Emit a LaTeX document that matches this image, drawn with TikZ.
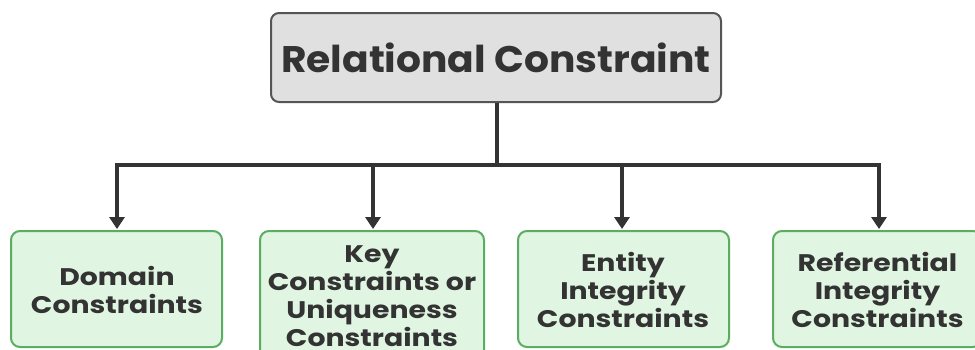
\documentclass[tikz,border=0pt]{standalone}
\usepackage{fontspec}
\setmainfont{Poppins}
\newfontfamily\gfont{Poppins}[FakeStretch=1.18]
\newfontfamily\tfont{Poppins}[FakeStretch=1.06]
\usetikzlibrary{arrows.meta}
\definecolor{txt}{HTML}{333333}
\definecolor{topfill}{HTML}{E0E0E0}
\definecolor{topdraw}{HTML}{555555}
\definecolor{gfill}{HTML}{E0F6E2}
\definecolor{gdraw}{HTML}{5AAE61}
\tikzset{
  topbox/.style={draw=topdraw, fill=topfill, line width=2pt, rounded corners=8pt, minimum width=450pt, minimum height=89pt, inner sep=0pt, text=txt, font=\tfont\fontsize{37}{42}\selectfont\bfseries},
  gbox/.style={draw=gdraw, fill=gfill, line width=2pt, rounded corners=9pt, inner sep=0pt, text=txt},
  gtext/.style={text=txt, align=center, inner sep=0pt, font=\gfont\fontsize{24}{28}\selectfont\bfseries},
  conn/.style={draw=txt, line width=3.5pt},
  arr/.style={conn, -{Triangle[length=12pt,width=15pt]}, shorten >=0pt}
}
\begin{document}
\begin{tikzpicture}[x=1pt,y=-1pt]
\clip (0,0) rectangle (975,349);
\fill[white] (0,0) rectangle (975,349);
\node[topbox] (root) at (496,57.5) {Relational Constraint};
\node[gbox, minimum width=211pt, minimum height=116pt] (b1) at (116.5,289) {};
\node[gbox, minimum width=224pt, minimum height=150pt] (b2) at (372,306) {};
\node[gbox, minimum width=211pt, minimum height=116pt] (b3) at (623.5,289) {};
\node[gbox, minimum width=209pt, minimum height=116pt] (b4) at (877.5,289) {};
\node[gtext] (t1) at (117,290) {Domain\\Constraints};
\node[gtext] (t2) at (372,296) {Key\\Constraints or\\Uniqueness\\Constraints};
\node[gtext] (t3) at (623,290) {Entity\\Integrity\\Constraints};
\node[gtext] (t4) at (877.5,290) {Referential\\Integrity\\Constraints};
\coordinate (j) at (497,165);
\coordinate (h1) at (117,165);
\coordinate (h2) at (373,165);
\coordinate (h3) at (622,165);
\coordinate (h4) at (879,165);
\coordinate (a1) at (117,229);
\coordinate (a2) at (373,229);
\coordinate (a3) at (622,229);
\coordinate (a4) at (879,229);
\draw[conn] (root.south -| j) -- (j);
\draw[conn, line cap=rect] (h1) -- (h4);
\draw[arr] (h1) -- (a1);
\draw[arr] (h2) -- (a2);
\draw[arr] (h3) -- (a3);
\draw[arr] (h4) -- (a4);
\end{tikzpicture}
\end{document}
